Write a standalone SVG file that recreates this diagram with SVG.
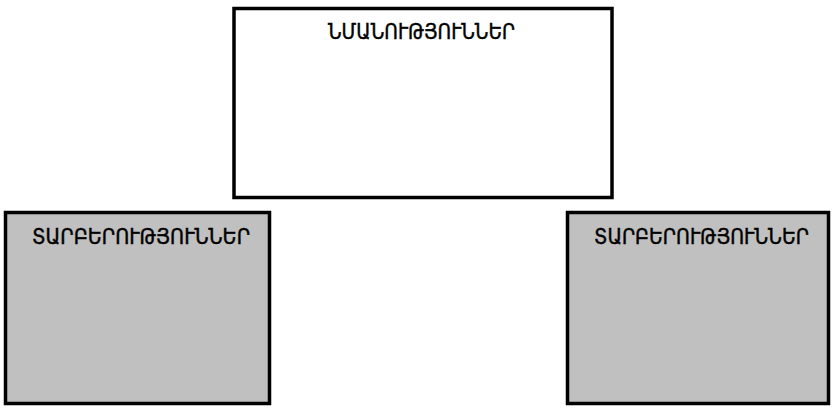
<svg xmlns="http://www.w3.org/2000/svg" width="832" height="408" viewBox="0 0 832 408">
<style>
.box{stroke:#000;stroke-width:3.5}
.t{font-family:"Noto Sans","DejaVu Sans",sans-serif;font-size:20.5px;font-weight:400;fill:#000;stroke:#000;stroke-width:0.45}
</style>
<rect width="832" height="408" fill="#fff"/>
<g id="similarities">
<rect class="box" x="234" y="8.5" width="378" height="189" fill="#fff"/>
<text class="t" x="328" y="39" textLength="187" lengthAdjust="spacingAndGlyphs">ՆՄԱՆՈՒԹՅՈՒՆՆԵՐ</text>
</g>
<g id="differences-left">
<rect class="box" x="5.5" y="212.5" width="264" height="191" fill="#c0c0c0"/>
<text class="t" x="32" y="244" textLength="218" lengthAdjust="spacingAndGlyphs">ՏԱՐԲԵՐՈՒԹՅՈՒՆՆԵՐ</text>
</g>
<g id="differences-right">
<rect class="box" x="567.5" y="212.5" width="261" height="191" fill="#c0c0c0"/>
<text class="t" x="594" y="244" textLength="215" lengthAdjust="spacingAndGlyphs">ՏԱՐԲԵՐՈՒԹՅՈՒՆՆԵՐ</text>
</g>
<g id="connectors"/>
</svg>
